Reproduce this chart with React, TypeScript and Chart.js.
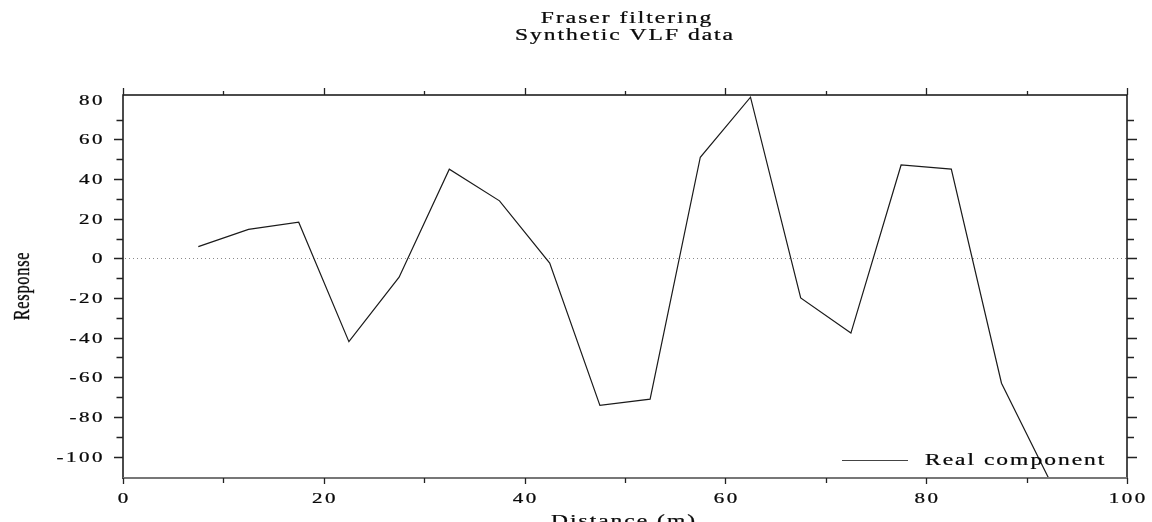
import { useEffect, useRef } from 'react';
import { Chart, registerables } from 'chart.js';

Chart.register(...registerables);

const distances = [7.5, 12.5, 17.5, 22.5, 27.5, 32.5, 37.5, 42.5, 47.5, 52.5, 57.5, 62.5, 67.5, 72.5, 77.5, 82.5, 87.5, 92.5];
const realComponent = [5.9, 14.6, 18.2, -42, -9.5, 45, 29, -2.4, -74.2, -71, 51, 81.3, -20, -37.7, 47.1, 45, -63, -114];
const xTickLabels = ['0', '20', '40', '60', '80', '100'];
const yTickLabels = ['80', '60', '40', '20', '0', '-20', '-40', '-60', '-80', '-100'];
const titleLines = ['Fraser filtering', 'Synthetic VLF data'];
const xAxisTitle = 'Distance (m)';
const yAxisTitle = 'Response';
const seriesName = 'Real component';

const FONT = '"Liberation Serif", "Times New Roman", serif';
const SQUEEZE = 0.7;

function drawText(
  ctx: CanvasRenderingContext2D,
  text: string,
  x: number,
  y: number,
  size: number,
  align: CanvasTextAlign,
  spacing: number,
  rotate = false,
) {
  ctx.save();
  ctx.translate(x, y);
  ctx.scale(1, SQUEEZE);
  if (rotate) ctx.rotate(-Math.PI / 2);
  ctx.font = `${size}px ${FONT}`;
  (ctx as any).letterSpacing = `${spacing}px`;
  ctx.textAlign = align;
  ctx.textBaseline = 'alphabetic';
  ctx.fillStyle = '#0a0a0a';
  ctx.strokeStyle = '#0a0a0a';
  ctx.lineWidth = 0.35;
  ctx.fillText(text, 0, 0);
  ctx.strokeText(text, 0, 0);
  ctx.restore();
}

const framePlugin = {
  id: 'framePlugin',
  beforeDatasetsDraw(chart: any) {
    const { ctx, chartArea, scales } = chart;
    const y0 = Math.round(scales.y.getPixelForValue(0)) + 0.5;
    ctx.save();
    ctx.strokeStyle = '#8a8a8a';
    ctx.lineWidth = 1;
    ctx.setLineDash([1, 3]);
    ctx.beginPath();
    ctx.moveTo(chartArea.left + 2, y0);
    ctx.lineTo(chartArea.right, y0);
    ctx.stroke();
    ctx.restore();
  },
  afterDatasetsDraw(chart: any) {
    const { ctx, chartArea, scales } = chart;
    const { left, right, top, bottom } = chartArea;
    ctx.save();
    // frame
    ctx.lineWidth = 1.5;
    ctx.strokeStyle = '#111';
    ctx.beginPath();
    ctx.moveTo(left, bottom + 1);
    ctx.lineTo(left, top);
    ctx.lineTo(right, top);
    ctx.lineTo(right, bottom + 1);
    ctx.stroke();
    ctx.strokeStyle = '#777';
    ctx.lineWidth = 2;
    ctx.beginPath();
    ctx.moveTo(left, bottom);
    ctx.lineTo(right, bottom);
    ctx.stroke();

    // y ticks
    ctx.lineWidth = 1.3;
    ctx.strokeStyle = '#222';
    const yTicks = scales.y.ticks.filter((t: any) => Math.abs(t.value / 10 - Math.round(t.value / 10)) < 1e-6);
    yTicks.forEach((t: any) => {
      const py = Math.round(scales.y.getPixelForValue(t.value)) + 0.5;
      const major = Math.round(t.value) % 20 === 0;
      ctx.beginPath();
      ctx.moveTo(left - (major ? 9 : 6.5), py);
      ctx.lineTo(left, py);
      ctx.moveTo(right, py);
      ctx.lineTo(right + (major ? 10 : 7), py);
      ctx.stroke();
    });
    const xTicks = scales.x.ticks.filter((t: any) => Math.abs(t.value / 10 - Math.round(t.value / 10)) < 1e-6);
    xTicks.forEach((t: any) => {
      const px = Math.round(scales.x.getPixelForValue(t.value)) + 0.5;
      const major = Math.round(t.value) % 20 === 0;
      ctx.beginPath();
      ctx.moveTo(px, top);
      ctx.lineTo(px, top - (major ? 7 : 4));
      ctx.moveTo(px, bottom);
      ctx.lineTo(px, bottom + (major ? 6 : 5));
      ctx.stroke();
    });
    ctx.restore();

    // tick labels
    yTickLabels.forEach((lab) => {
      const py = scales.y.getPixelForValue(Number(lab));
      drawText(ctx, lab, 105, py + 5, 21, 'right', 2.5);
    });
    xTickLabels.forEach((lab) => {
      const px = scales.x.getPixelForValue(Number(lab));
      drawText(ctx, lab, px + 1.25, 503, 21, 'center', 2.5);
    });

    // titles
    drawText(ctx, titleLines[0], 627, 23, 23.5, 'center', 2);
    drawText(ctx, titleLines[1], 625, 40, 23.5, 'center', 2);
    drawText(ctx, xAxisTitle, 624, 526, 23.5, 'center', 2);
    drawText(ctx, yAxisTitle, 29, 286, 23.5, 'center', 1, true);

    // legend
    ctx.save();
    ctx.strokeStyle = '#444';
    ctx.lineWidth = 1;
    ctx.beginPath();
    ctx.moveTo(842, 460.5);
    ctx.lineTo(908, 460.5);
    ctx.stroke();
    ctx.restore();
    drawText(ctx, seriesName, 925, 465, 23.5, 'left', 2);
  },
};

export default function App() {
  const ref = useRef<HTMLCanvasElement | null>(null);
  useEffect(() => {
    if (!ref.current) return;
    const chart = new Chart(ref.current, {
      type: 'line',
      data: {
        datasets: [
          {
            label: seriesName,
            data: distances.map((x, i) => ({ x, y: realComponent[i] })),
            borderColor: '#1a1a1a',
            borderWidth: 1.2,
            pointRadius: 0,
            tension: 0,
            fill: false,
          },
        ],
      },
      options: {
        animation: false,
        responsive: false,
        devicePixelRatio: 1,
        layout: { padding: { top: 95, right: 25, left: 0, bottom: 0 } },
        plugins: { legend: { display: false }, title: { display: false }, tooltip: { enabled: false } },
        scales: {
          x: {
            type: 'linear',
            min: 0,
            max: 100,
            ticks: { display: false, stepSize: 10 },
            grid: { display: false },
            border: { display: false },
            afterFit: (s: any) => {
              s.height = 44;
            },
          },
          y: {
            type: 'linear',
            min: -110.8,
            max: 82.4,
            ticks: { display: false, stepSize: 10 },
            grid: { display: false },
            border: { display: false },
            afterFit: (s: any) => {
              s.width = 123;
            },
          },
        },
      } as any,
      plugins: [framePlugin],
    });
    return () => chart.destroy();
  }, []);
  return (
    <div style={{ position: 'fixed', left: 0, top: 0, width: 1152, height: 522, background: '#fff' }}>
      <canvas ref={ref} width={1152} height={522} style={{ width: 1152, height: 522, display: 'block' }} />
    </div>
  );
}
